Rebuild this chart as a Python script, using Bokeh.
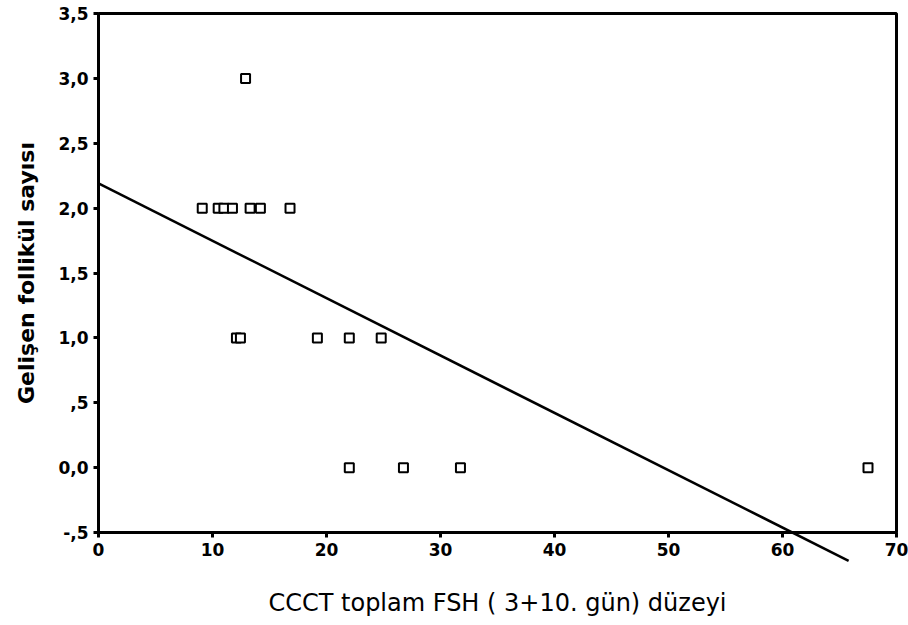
from bokeh.plotting import figure
from bokeh.models import FixedTicker
from bokeh.embed import file_html
from bokeh.resources import INLINE

# --- data ---
fsh_total = [12.9,
             9.1, 10.5, 11.0, 11.75, 13.3, 14.2, 16.8,
             12.1, 12.45, 19.2, 22.0, 24.8,
             22.0, 26.75, 31.75, 67.5]
follicle_count = [3,
                  2, 2, 2, 2, 2, 2, 2,
                  1, 1, 1, 1, 1,
                  0, 0, 0, 0]

# fitted regression line (intercept, slope) and its drawn x extent
reg_intercept = 2.19
reg_slope = -0.0442
reg_x = [0.0, 65.8]
reg_y = [reg_intercept + reg_slope * x for x in reg_x]

x_ticks = [0, 10, 20, 30, 40, 50, 60, 70]
y_ticks = [-0.5, 0.0, 0.5, 1.0, 1.5, 2.0, 2.5, 3.0, 3.5]
y_tick_labels = ["-,5", "0,0", ",5", "1,0", "1,5", "2,0", "2,5", "3,0", "3,5"]

x_label = "CCCT toplam FSH ( 3+10. gün) düzeyi"
y_label = "Gelişen follikül sayısı"

FONT = "DejaVu Sans"

p = figure(width=908, height=625, x_range=(0, 70), y_range=(-0.5, 3.5),
           output_backend="svg", toolbar_location=None,
           min_border_left=98, min_border_right=12,
           min_border_top=13, min_border_bottom=93)

p.background_fill_color = "white"
p.border_fill_color = "white"
p.outline_line_color = "black"
p.outline_line_width = 3
p.grid.visible = False

for ax in (p.xaxis[0], p.yaxis[0]):
    ax.axis_line_color = "black"
    ax.axis_line_width = 3
    ax.major_tick_line_color = "black"
    ax.major_tick_line_width = 3
    ax.major_tick_in = 0
    ax.major_tick_out = 5
    ax.minor_tick_line_color = None
    ax.major_label_text_font = FONT
    ax.major_label_text_font_style = "bold"
    ax.major_label_text_font_size = "17px"
    ax.major_label_text_color = "black"
    ax.major_label_standoff = 5
    ax.axis_label_text_font = FONT
    ax.axis_label_text_color = "black"

p.xaxis[0].ticker = FixedTicker(ticks=x_ticks)
p.yaxis[0].ticker = FixedTicker(ticks=y_ticks)
p.yaxis[0].major_label_overrides = {t: l for t, l in zip(y_ticks, y_tick_labels)}

p.xaxis[0].axis_label = x_label
p.xaxis[0].axis_label_text_font_style = "normal"
p.xaxis[0].axis_label_text_font_size = "24px"
p.xaxis[0].axis_label_standoff = 30
p.yaxis[0].axis_label = y_label
p.yaxis[0].axis_label_text_font_style = "bold"
p.yaxis[0].axis_label_text_font_size = "22px"
p.yaxis[0].axis_label_standoff = 16

# regression line (overlay level so it may run past the frame, as in the reference)
p.line(reg_x, reg_y, line_color="black", line_width=2.5, level="overlay")

# points
p.scatter(fsh_total, follicle_count, marker="square", size=9,
          fill_color="white", line_color="black", line_width=2)

open("out.html", "w").write(file_html(p, INLINE))
